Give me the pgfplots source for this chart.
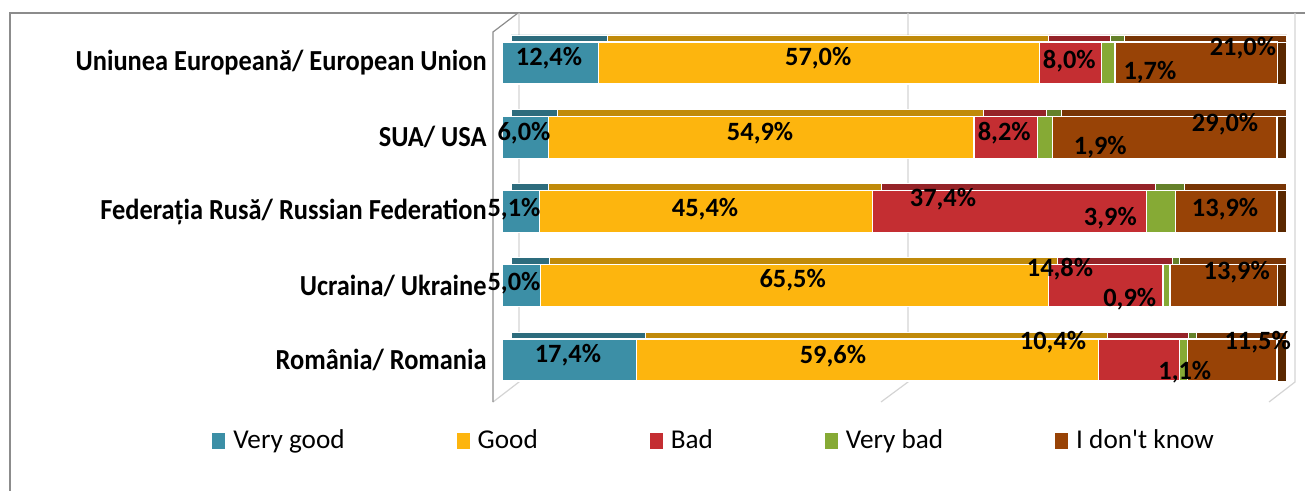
\documentclass[border=0pt]{standalone}
\usepackage{graphicx}
\usepackage{pgfplots}
\usepackage{pgfplotstable}
\pgfplotsset{compat=1.18}
\usepackage{fontspec}
\setmainfont{Carlito}
\newfontfamily\legfam{Carlito}

\definecolor{vg}{HTML}{3C8FA6}\definecolor{vgT}{HTML}{2D6C7D}
\definecolor{gd}{HTML}{FDB50E}\definecolor{gdT}{HTML}{C08A0A}
\definecolor{bd}{HTML}{C42E32}\definecolor{bdT}{HTML}{952328}
\definecolor{vb}{HTML}{86AA35}\definecolor{vbT}{HTML}{65812A}
\definecolor{dk}{HTML}{984306}\definecolor{dkT}{HTML}{783505}\definecolor{dkS}{HTML}{5A2800}
\definecolor{wall}{HTML}{8C8C8C}\definecolor{grid}{HTML}{D4D4D4}

\pgfplotstableread{
y vg g b vb dk
0 17.4 59.6 10.4 1.1 11.5
1 5.0 65.5 14.8 0.9 13.9
2 4.83 42.95 35.38 3.69 13.15
3 6.0 54.9 8.2 1.9 29.0
4 12.4 57.0 8.0 1.7 21.0
}\datatable

\newcommand\barlabelfont{\fontsize{13.2}{15}\selectfont\bfseries}
\newcommand\legfont{\legfam\fontsize{13.6}{16}\selectfont}
\newcommand\sy[1]{\scalebox{1}[1.1]{#1}}
\tikzset{lab/.style={font=\barlabelfont, inner sep=0pt}}

\pgfplotsset{
  base/.style={
    xbar stacked, bar width=21pt,
    scale only axis, width=387.5pt, height=193.05pt,
    xmin=0, xmax=100, ymin=-0.6, ymax=4.6,
    anchor=south west, clip=false,
    axis line style={draw=none},
    xtick=\empty, major tick length=0pt,
  },
  back/.style={base, hide axis},
}

\begin{document}
\begin{tikzpicture}
\begin{scope}[x=0.5pt,y=-0.5pt]
\path[use as bounding box] (0,0) rectangle (1305,491);
\draw[wall, line width=0.6pt] (10,491) -- (10,13) -- (1305,13);
\draw[grid, line width=0.6pt] (519,13) -- (519,382) -- (493,402);
\draw[grid, line width=0.6pt] (908,13) -- (908,382) -- (881,402);
\draw[grid, line width=0.6pt] (1295,13) -- (1295,382) -- (1269,402);
\draw[wall, line width=0.6pt] (493,402) -- (493,32) -- (518,13);
\end{scope}

% top faces
\begin{axis}[back, at={(255.5pt,-198.775pt)}]
\addplot[fill=vgT, draw=white, line width=0.4pt] table[x=vg,y=y]{\datatable};
\addplot[fill=gdT, draw=white, line width=0.4pt] table[x=g,y=y]{\datatable};
\addplot[fill=bdT, draw=white, line width=0.4pt] table[x=b,y=y]{\datatable};
\addplot[fill=vbT, draw=white, line width=0.4pt] table[x=vb,y=y]{\datatable};
\addplot[fill=dkT, draw=white, line width=0.4pt] table[x=dk,y=y]{\datatable};
\end{axis}
% side faces
\begin{axis}[back, at={(255.5pt,-202.275pt)}]
\addplot[fill=vgT, draw=none] table[x=vg,y=y]{\datatable};
\addplot[fill=gdT, draw=none] table[x=g,y=y]{\datatable};
\addplot[fill=bdT, draw=none] table[x=b,y=y]{\datatable};
\addplot[fill=vbT, draw=none] table[x=vb,y=y]{\datatable};
\addplot[fill=dkS, draw=white, line width=0.4pt] table[x=dk,y=y]{\datatable};
\end{axis}

% front faces
\begin{axis}[base, at={(251pt,-202.275pt)},
  ytick={0,1,2,3,4},
  yticklabels={\sy{România/ Romania}, \sy{Ucraina/ Ukraine}, \sy{Federația Rusă/ Russian Federation}, \sy{SUA/ USA}, \sy{Uniunea Europeană/ European Union}},
  yticklabel style={font=\barlabelfont, inner sep=0pt, xshift=-7.5pt},
  legend columns=5,
  legend image code/.code={\fill[#1,draw=none] (0pt,-4pt) rectangle (6.5pt,4pt);},
  legend style={at={(-0.3742,-0.0944)}, anchor=west, draw=none, fill=none,
    inner sep=0pt, font=\legfont,
    column sep=4pt, nodes={inner sep=0pt},
    /tikz/every even column/.append style={column sep=56pt}},
]
\addplot[fill=vg, draw=white, line width=0.6pt] table[x=vg,y=y]{\datatable};
\addplot[fill=gd, draw=white, line width=0.6pt] table[x=g,y=y]{\datatable};
\addplot[fill=bd, draw=white, line width=0.6pt] table[x=b,y=y]{\datatable};
\addplot[fill=vb, draw=white, line width=0.6pt] table[x=vb,y=y]{\datatable};
\addplot[fill=dk, draw=white, line width=0.6pt] table[x=dk,y=y]{\datatable};
\legend{Very good, Good, Bad, Very bad, I don't know}
\end{axis}

% data labels on top
\begin{axis}[back, at={(251pt,-202.275pt)}]
\node[lab] at (axis cs:6.06,4.07) {12,4\%};
\node[lab] at (axis cs:40.8,4.07) {57,0\%};
\node[lab] at (axis cs:73.2,4.03) {8,0\%};
\node[lab] at (axis cs:83.6,3.88) {1,7\%};
\node[lab] at (axis cs:95.6,4.20) {21,0\%};
\node[lab] at (axis cs:2.84,3.05) {6,0\%};
\node[lab] at (axis cs:33.3,3.05) {54,9\%};
\node[lab] at (axis cs:64.8,3.05) {8,2\%};
\node[lab] at (axis cs:77.2,2.87) {1,9\%};
\node[lab] at (axis cs:93.3,3.18) {29,0\%};
\node[lab] at (axis cs:1.55,2.03) {5,1\%};
\node[lab] at (axis cs:26.2,2.03) {45,4\%};
\node[lab] at (axis cs:56.9,2.16) {37,4\%};
\node[lab] at (axis cs:78.5,1.91) {3,9\%};
\node[lab] at (axis cs:93.3,2.03) {13,9\%};
\node[lab] at (axis cs:1.55,1.04) {5,0\%};
\node[lab] at (axis cs:37.5,1.07) {65,5\%};
\node[lab] at (axis cs:72.0,1.23) {14,8\%};
\node[lab] at (axis cs:81.0,0.82) {0,9\%};
\node[lab] at (axis cs:94.8,1.18) {13,9\%};
\node[lab] at (axis cs:8.5,0.07) {17,4\%};
\node[lab] at (axis cs:42.7,0.05) {59,6\%};
\node[lab] at (axis cs:71.1,0.24) {10,4\%};
\node[lab] at (axis cs:88.1,-0.16) {1,1\%};
\node[lab] at (axis cs:97.5,0.24) {11,5\%};
\end{axis}
\end{tikzpicture}
\end{document}
